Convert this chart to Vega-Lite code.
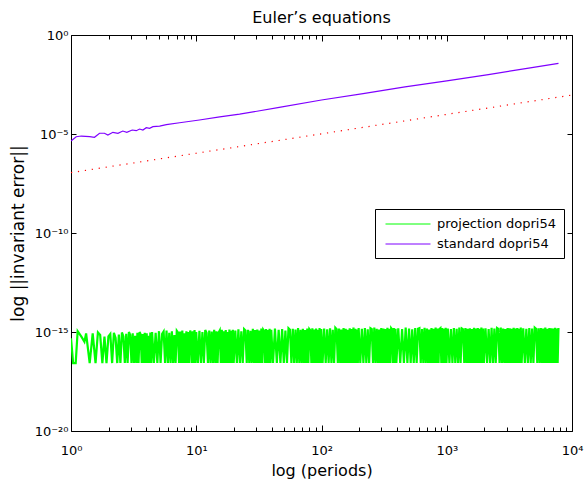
{
  "$schema": "https://vega.github.io/schema/vega-lite/v6.json",
  "autosize": {"type": "none"},
  "padding": {"left": 71, "top": 35, "right": 13, "bottom": 52},
  "width": 501,
  "height": 396,
  "background": "white",
  "title": {"text": "Euler’s equations", "fontSize": 16, "fontWeight": "normal", "font": "DejaVu Sans", "color": "black", "offset": 3},
  "datasets": {
    "ref": [
      {"t": 1, "e": 1.12e-7}, {"t": 10, "e": 1.07e-6}, {"t": 100, "e": 1.02e-5}, {"t": 1000, "e": 9.8e-5}, {"t": 10000, "e": 9.3e-4}
    ],
    "standard": [
      {"t": 1.0, "e": 4.45e-6}, {"t": 1.10, "e": 7.3e-6}, {"t": 1.21, "e": 7.9e-6}, {"t": 1.41, "e": 7.3e-6}, {"t": 1.54, "e": 6.8e-6},
      {"t": 1.69, "e": 1.09e-5}, {"t": 1.85, "e": 1.09e-5}, {"t": 1.97, "e": 8.9e-6}, {"t": 2.16, "e": 1.22e-5}, {"t": 2.37, "e": 1.09e-5},
      {"t": 2.59, "e": 1.41e-5}, {"t": 2.79, "e": 1.22e-5}, {"t": 3.08, "e": 1.59e-5}, {"t": 3.32, "e": 1.47e-5}, {"t": 3.53, "e": 1.78e-5},
      {"t": 3.75, "e": 1.59e-5}, {"t": 3.99, "e": 2.09e-5}, {"t": 4.24, "e": 1.95e-5}, {"t": 4.51, "e": 2.34e-5}, {"t": 5.10, "e": 2.5e-5},
      {"t": 5.77, "e": 2.95e-5}, {"t": 7.36, "e": 3.7e-5}, {"t": 10.6, "e": 5.1e-5}, {"t": 15.4, "e": 7.4e-5}, {"t": 22.2, "e": 1.0e-4},
      {"t": 46, "e": 2.2e-4}, {"t": 100, "e": 5.2e-4}, {"t": 215, "e": 1.1e-3}, {"t": 464, "e": 2.4e-3}, {"t": 1000, "e": 4.8e-3},
      {"t": 2150, "e": 1.0e-2}, {"t": 4640, "e": 2.2e-2}, {"t": 7800, "e": 3.7e-2}
    ],
    "projection": [
      {"t":1.00,"e":4.8e-16},{"t":1.04,"e":2.7e-17},{"t":1.09,"e":2.7e-17},{"t":1.13,"e":1.1e-15},{"t":1.21,"e":5.8e-16},{"t":1.28,"e":3.2e-16},{"t":1.32,"e":8.5e-16},{"t":1.41,"e":2.7e-17},{"t":1.49,"e":8.5e-16},{"t":1.57,"e":2.7e-17},
      {"t":1.64,"e":9.5e-16},{"t":1.71,"e":7e-16},{"t":1.78,"e":2.7e-17},{"t":1.85,"e":5.8e-16},{"t":1.92,"e":2.7e-17},{"t":1.99,"e":6e-16},{"t":2.06,"e":8e-16},{"t":2.13,"e":2.7e-17},{"t":2.20,"e":9e-16},{"t":2.27,"e":5e-16},
      {"t":2.34,"e":2.7e-17},{"t":2.41,"e":7.5e-16},{"t":2.48,"e":2.7e-17},{"t":2.55,"e":9.5e-16},{"t":2.62,"e":6e-16},{"t":2.69,"e":2.7e-17},{"t":2.76,"e":8e-16},{"t":2.83,"e":2.7e-17},{"t":2.90,"e":1.0e-15},{"t":2.97,"e":7e-16},
      {"t":3.04,"e":2.7e-17},{"t":3.11,"e":8.5e-16},{"t":3.18,"e":2.7e-17},{"t":3.25,"e":6.5e-16},{"t":3.32,"e":2.7e-17},{"t":3.39,"e":9e-16},{"t":3.46,"e":2.7e-17},{"t":3.53,"e":1.0e-15},{"t":3.60,"e":7.5e-16},{"t":3.67,"e":2.7e-17},
      {"t":3.74,"e":8e-16},{"t":3.81,"e":2.7e-17},{"t":3.88,"e":9e-16},{"t":3.95,"e":2.7e-17},{"t":4.02,"e":8.5e-16},{"t":4.09,"e":2.7e-17},{"t":4.16,"e":6.5e-16},{"t":4.23,"e":2.7e-17},{"t":4.30,"e":9.5e-16},{"t":4.37,"e":2.7e-17},
      {"t":4.44,"e":1.0e-15},
      {"t":4.59,"e":2.7e-17},{"t":4.74,"e":9e-16},{"t":4.89,"e":2.7e-17},{"t":5.04,"e":1.1e-15},{"t":5.19,"e":2.7e-17},{"t":5.34,"e":8e-16},{"t":5.49,"e":1.05e-15},{"t":5.64,"e":2.7e-17},{"t":5.79,"e":1.2e-15},{"t":5.94,"e":2.7e-17},
      {"t":6.09,"e":9e-16},{"t":6.24,"e":2.7e-17},{"t":6.39,"e":1.1e-15},{"t":6.54,"e":2.7e-17},{"t":6.69,"e":7e-16},{"t":6.84,"e":2.7e-17},{"t":6.99,"e":1.15e-15},{"t":7.14,"e":9.5e-16},{"t":7.29,"e":2.7e-17},{"t":7.44,"e":1.05e-15},
      {"t":7.59,"e":2.7e-17},{"t":7.74,"e":1.2e-15},{"t":7.89,"e":2.7e-17},{"t":8.04,"e":8.5e-16},{"t":8.19,"e":2.7e-17},{"t":8.34,"e":1.1e-15},{"t":8.49,"e":2.7e-17},{"t":8.64,"e":1e-15},{"t":8.79,"e":2.7e-17},{"t":8.94,"e":1.2e-15},
      {"t":9.09,"e":8e-16},{"t":9.24,"e":2.7e-17},{"t":9.39,"e":1.1e-15},{"t":9.54,"e":2.7e-17},{"t":9.69,"e":1.25e-15},{"t":9.84,"e":2.7e-17},{"t":9.99,"e":1e-15},
      {"t":10.3,"e":2.7e-17},{"t":10.6,"e":1.15e-15},{"t":10.9,"e":2.7e-17},{"t":11.2,"e":1e-15},{"t":11.5,"e":2.7e-17},{"t":11.8,"e":1.25e-15},{"t":12.1,"e":9e-16},{"t":12.4,"e":2.7e-17},{"t":12.7,"e":1.2e-15},{"t":13.0,"e":2.7e-17},
      {"t":13.3,"e":1.05e-15},{"t":13.6,"e":2.7e-17},{"t":13.9,"e":1.3e-15},{"t":14.2,"e":2.7e-17},{"t":14.5,"e":1.1e-15},{"t":14.8,"e":2.7e-17},{"t":15.1,"e":9.5e-16},{"t":15.4,"e":1.2e-15},{"t":15.7,"e":2.7e-17},{"t":16.0,"e":1.3e-15},
      {"t":16.3,"e":2.7e-17},{"t":16.6,"e":1.1e-15},{"t":16.9,"e":2.7e-17},{"t":17.2,"e":1.25e-15},{"t":17.5,"e":2.7e-17},{"t":17.8,"e":1e-15},{"t":18.1,"e":2.7e-17},{"t":18.4,"e":1.35e-15},{"t":18.7,"e":2.7e-17},{"t":19.0,"e":1.15e-15},
      {"t":19.3,"e":2.7e-17},{"t":19.6,"e":1.3e-15},{"t":19.9,"e":2.7e-17},
      {"t":20.5,"e":1.2e-15},{"t":21.1,"e":2.7e-17},{"t":21.7,"e":1.35e-15},{"t":22.3,"e":2.7e-17},{"t":22.9,"e":1.1e-15},{"t":23.5,"e":2.7e-17},{"t":24.1,"e":1.4e-15},{"t":24.7,"e":1.2e-15},{"t":25.3,"e":2.7e-17},{"t":25.9,"e":1.3e-15},
      {"t":26.5,"e":2.7e-17},{"t":27.1,"e":1.15e-15},{"t":27.7,"e":2.7e-17},{"t":28.3,"e":1.45e-15},{"t":28.9,"e":2.7e-17},{"t":29.5,"e":1.25e-15},{"t":30.1,"e":2.7e-17},{"t":30.7,"e":1.35e-15},{"t":31.3,"e":2.7e-17},{"t":31.9,"e":1.2e-15},
      {"t":32.5,"e":2.7e-17},{"t":33.1,"e":1.5e-15},{"t":33.7,"e":2.7e-17},{"t":34.3,"e":1.3e-15},{"t":34.9,"e":1.1e-15},{"t":35.5,"e":2.7e-17},{"t":36.1,"e":1.4e-15},{"t":36.7,"e":2.7e-17},{"t":37.3,"e":1.25e-15},{"t":37.9,"e":2.7e-17},
      {"t":38.5,"e":1.45e-15},{"t":39.1,"e":2.7e-17},{"t":39.7,"e":1.3e-15},
      {"t":41,"e":2.7e-17},{"t":42.5,"e":1.5e-15},{"t":44,"e":2.7e-17},{"t":45.5,"e":1.3e-15},{"t":47,"e":2.7e-17},{"t":48.5,"e":1.4e-15},{"t":50,"e":2.7e-17},{"t":51.5,"e":1.2e-15},{"t":53,"e":2.7e-17},{"t":54.5,"e":1.55e-15},
      {"t":56,"e":1.3e-15},{"t":57.5,"e":2.7e-17},{"t":59,"e":1.45e-15},{"t":60.5,"e":2.7e-17},{"t":62,"e":1.35e-15},{"t":63.5,"e":2.7e-17},{"t":65,"e":1.6e-15},{"t":66.5,"e":2.7e-17},{"t":68,"e":1.3e-15},{"t":69.5,"e":2.7e-17},
      {"t":71,"e":1.45e-15},{"t":72.5,"e":2.7e-17},{"t":74,"e":1.25e-15},{"t":75.5,"e":2.7e-17},{"t":77,"e":1.5e-15},{"t":78.5,"e":2.7e-17},{"t":80,"e":1.4e-15},{"t":81.5,"e":1.2e-15},{"t":83,"e":2.7e-17},{"t":84.5,"e":1.55e-15},
      {"t":86,"e":2.7e-17},{"t":87.5,"e":1.35e-15},{"t":89,"e":2.7e-17},{"t":90.5,"e":1.5e-15},{"t":92,"e":2.7e-17},{"t":93.5,"e":1.3e-15},{"t":95,"e":2.7e-17},{"t":96.5,"e":1.6e-15},{"t":98,"e":2.7e-17},{"t":99.5,"e":1.4e-15},
      {"t":102,"e":2.7e-17},{"t":105,"e":1.5e-15},{"t":108,"e":2.7e-17},{"t":111,"e":1.35e-15},{"t":114,"e":2.7e-17},{"t":117,"e":1.55e-15},{"t":120,"e":2.7e-17},{"t":123,"e":1.3e-15},{"t":126,"e":2.7e-17},{"t":129,"e":1.65e-15},
      {"t":132,"e":1.4e-15},{"t":135,"e":2.7e-17},{"t":138,"e":1.5e-15},{"t":141,"e":2.7e-17},{"t":144,"e":1.35e-15},{"t":147,"e":2.7e-17},{"t":150,"e":1.6e-15},{"t":153,"e":2.7e-17},{"t":156,"e":1.45e-15},{"t":159,"e":2.7e-17},
      {"t":162,"e":1.3e-15},{"t":165,"e":2.7e-17},{"t":168,"e":1.55e-15},{"t":171,"e":2.7e-17},{"t":174,"e":1.4e-15},{"t":177,"e":2.7e-17},{"t":180,"e":1.7e-15},{"t":183,"e":2.7e-17},{"t":186,"e":1.45e-15},{"t":189,"e":2.7e-17},
      {"t":192,"e":1.35e-15},{"t":195,"e":2.7e-17},{"t":198,"e":1.6e-15},
      {"t":204,"e":2.7e-17},{"t":210,"e":1.45e-15},{"t":216,"e":2.7e-17},{"t":222,"e":1.6e-15},{"t":228,"e":2.7e-17},{"t":234,"e":1.35e-15},{"t":240,"e":2.7e-17},{"t":246,"e":1.55e-15},{"t":252,"e":1.4e-15},{"t":258,"e":2.7e-17},
      {"t":264,"e":1.7e-15},{"t":270,"e":2.7e-17},{"t":276,"e":1.45e-15},{"t":282,"e":2.7e-17},{"t":288,"e":1.35e-15},{"t":294,"e":2.7e-17},{"t":300,"e":1.6e-15},{"t":306,"e":2.7e-17},{"t":312,"e":1.5e-15},{"t":318,"e":2.7e-17},
      {"t":324,"e":1.4e-15},{"t":330,"e":2.7e-17},{"t":336,"e":1.65e-15},{"t":342,"e":2.7e-17},{"t":348,"e":1.45e-15},{"t":354,"e":2.7e-17},{"t":360,"e":1.55e-15},{"t":366,"e":1.35e-15},{"t":372,"e":2.7e-17},{"t":378,"e":1.6e-15},
      {"t":384,"e":2.7e-17},{"t":390,"e":1.45e-15},{"t":396,"e":2.7e-17},
      {"t":410,"e":1.55e-15},{"t":425,"e":2.7e-17},{"t":440,"e":1.4e-15},{"t":455,"e":2.7e-17},{"t":470,"e":1.7e-15},{"t":485,"e":2.7e-17},{"t":500,"e":1.5e-15},{"t":515,"e":2.7e-17},{"t":530,"e":1.35e-15},{"t":545,"e":2.7e-17},
      {"t":560,"e":1.6e-15},{"t":575,"e":2.7e-17},{"t":590,"e":1.45e-15},{"t":605,"e":1.55e-15},{"t":620,"e":2.7e-17},{"t":635,"e":1.4e-15},{"t":650,"e":2.7e-17},{"t":665,"e":1.65e-15},{"t":680,"e":2.7e-17},{"t":695,"e":1.5e-15},
      {"t":710,"e":2.7e-17},{"t":725,"e":1.35e-15},{"t":740,"e":2.7e-17},{"t":755,"e":1.6e-15},{"t":770,"e":2.7e-17},{"t":785,"e":1.45e-15},{"t":800,"e":2.7e-17},{"t":815,"e":1.7e-15},{"t":830,"e":2.7e-17},{"t":845,"e":1.5e-15},
      {"t":860,"e":2.7e-17},{"t":875,"e":1.4e-15},{"t":890,"e":1.55e-15},{"t":905,"e":2.7e-17},{"t":920,"e":1.6e-15},{"t":935,"e":2.7e-17},{"t":950,"e":1.45e-15},{"t":965,"e":2.7e-17},{"t":980,"e":1.65e-15},{"t":995,"e":2.7e-17},
      {"t":1020,"e":1.5e-15},{"t":1050,"e":2.7e-17},{"t":1080,"e":1.4e-15},{"t":1110,"e":2.7e-17},{"t":1140,"e":1.6e-15},{"t":1170,"e":2.7e-17},{"t":1200,"e":1.45e-15},{"t":1230,"e":2.7e-17},{"t":1260,"e":1.7e-15},{"t":1290,"e":2.7e-17},
      {"t":1320,"e":1.5e-15},{"t":1350,"e":1.35e-15},{"t":1380,"e":2.7e-17},{"t":1410,"e":1.6e-15},{"t":1440,"e":2.7e-17},{"t":1470,"e":1.45e-15},{"t":1500,"e":2.7e-17},{"t":1530,"e":1.55e-15},{"t":1560,"e":2.7e-17},{"t":1590,"e":1.4e-15},
      {"t":1620,"e":2.7e-17},{"t":1650,"e":1.65e-15},{"t":1680,"e":2.7e-17},{"t":1710,"e":1.5e-15},{"t":1740,"e":2.7e-17},{"t":1770,"e":1.6e-15},{"t":1800,"e":2.7e-17},{"t":1830,"e":1.45e-15},{"t":1860,"e":2.7e-17},{"t":1890,"e":1.7e-15},
      {"t":1920,"e":2.7e-17},{"t":1950,"e":1.5e-15},{"t":1980,"e":2.7e-17},
      {"t":2040,"e":1.55e-15},{"t":2100,"e":2.7e-17},{"t":2160,"e":1.4e-15},{"t":2220,"e":2.7e-17},{"t":2280,"e":1.65e-15},{"t":2340,"e":2.7e-17},{"t":2400,"e":1.5e-15},{"t":2460,"e":2.7e-17},{"t":2520,"e":1.6e-15},{"t":2580,"e":1.45e-15},
      {"t":2640,"e":2.7e-17},{"t":2700,"e":1.7e-15},{"t":2760,"e":2.7e-17},{"t":2820,"e":1.5e-15},{"t":2880,"e":2.7e-17},{"t":2940,"e":1.4e-15},{"t":3000,"e":2.7e-17},{"t":3060,"e":1.6e-15},{"t":3120,"e":2.7e-17},{"t":3180,"e":1.55e-15},
      {"t":3240,"e":2.7e-17},{"t":3300,"e":1.45e-15},{"t":3360,"e":2.7e-17},{"t":3420,"e":1.65e-15},{"t":3480,"e":2.7e-17},{"t":3540,"e":1.5e-15},{"t":3600,"e":2.7e-17},{"t":3660,"e":1.6e-15},{"t":3720,"e":2.7e-17},{"t":3780,"e":1.45e-15},
      {"t":3840,"e":2.7e-17},{"t":3900,"e":1.7e-15},{"t":3960,"e":2.7e-17},
      {"t":4080,"e":1.55e-15},{"t":4200,"e":2.7e-17},{"t":4320,"e":1.45e-15},{"t":4440,"e":2.7e-17},{"t":4560,"e":1.6e-15},{"t":4680,"e":2.7e-17},{"t":4800,"e":1.5e-15},{"t":4920,"e":2.7e-17},{"t":5040,"e":1.65e-15},{"t":5160,"e":1.45e-15},
      {"t":5280,"e":2.7e-17},{"t":5400,"e":1.55e-15},{"t":5520,"e":2.7e-17},{"t":5640,"e":1.6e-15},{"t":5760,"e":2.7e-17},{"t":5880,"e":1.5e-15},{"t":6000,"e":2.7e-17},{"t":6120,"e":1.7e-15},{"t":6240,"e":2.7e-17},{"t":6360,"e":1.45e-15},
      {"t":6480,"e":2.7e-17},{"t":6600,"e":1.6e-15},{"t":6720,"e":2.7e-17},{"t":6840,"e":1.55e-15},{"t":6960,"e":2.7e-17},{"t":7080,"e":1.5e-15},{"t":7200,"e":2.7e-17},{"t":7320,"e":1.65e-15},{"t":7440,"e":2.7e-17},{"t":7560,"e":1.5e-15},
      {"t":7680,"e":2.7e-17},{"t":7800,"e":1.6e-15}
    ]
  },
  "resolve": {"axis": {"x": "independent", "y": "independent"}},
  "layer": [
    {
      "data": {"name": "ref"},
      "mark": {"type": "line", "color": "#ff0000", "strokeWidth": 1.2, "strokeDash": [1.2, 5.8], "clip": true},
      "encoding": {
        "x": {"field": "t", "type": "quantitative", "scale": {"type": "log", "domain": [1, 10000], "nice": false},
          "axis": {"orient": "bottom", "title": "log (periods)", "titleFontSize": 16, "titlePadding": 3,
            "values": [1,2,3,4,5,6,7,8,9,10,20,30,40,50,60,70,80,90,100,200,300,400,500,600,700,800,900,1000,2000,3000,4000,5000,6000,7000,8000,9000,10000],
            "labelExpr": "datum.value == 1 ? '10⁰' : datum.value == 10 ? '10¹' : datum.value == 100 ? '10²' : datum.value == 1000 ? '10³' : datum.value == 10000 ? '10⁴' : ''",
            "labelFontSize": 13, "labelPadding": 19, "labelFlush": false, "labelOverlap": false,
            "tickSize": {"condition": {"test": "datum.value == 1 || datum.value == 10 || datum.value == 100 || datum.value == 1000 || datum.value == 10000", "value": -6}, "value": -4}}},
        "y": {"field": "e", "type": "quantitative", "scale": {"type": "log", "domain": [1e-20, 1], "nice": false},
          "axis": {"orient": "left", "title": "log ||invariant error||", "titleFontSize": 17, "titlePadding": 7,
            "values": [1e-20, 1e-15, 1e-10, 1e-5, 1],
            "labelExpr": "datum.value > 0.1 ? '10⁰' : datum.value > 1e-6 ? '10⁻⁵' : datum.value > 1e-11 ? '10⁻¹⁰' : datum.value > 1e-16 ? '10⁻¹⁵' : '10⁻²⁰'",
            "labelFontSize": 13, "labelPadding": 8, "labelOverlap": false, "tickSize": -5}}
      }
    },
    {
      "data": {"name": "standard"},
      "mark": {"type": "line", "strokeWidth": 1.2, "clip": true},
      "encoding": {
        "x": {"field": "t", "type": "quantitative", "scale": {"type": "log", "domain": [1, 10000], "nice": false},
          "axis": {"orient": "top", "title": null, "labels": false,
            "values": [1,2,3,4,5,6,7,8,9,10,20,30,40,50,60,70,80,90,100,200,300,400,500,600,700,800,900,1000,2000,3000,4000,5000,6000,7000,8000,9000,10000],
            "tickSize": {"condition": {"test": "datum.value == 1 || datum.value == 10 || datum.value == 100 || datum.value == 1000 || datum.value == 10000", "value": -6}, "value": -4}}},
        "y": {"field": "e", "type": "quantitative", "scale": {"type": "log", "domain": [1e-20, 1], "nice": false},
          "axis": {"orient": "right", "title": null, "labels": false, "values": [1e-20, 1e-15, 1e-10, 1e-5, 1], "tickSize": -5}},
        "color": {"datum": "standard dopri54", "type": "nominal",
          "scale": {"domain": ["projection dopri54", "standard dopri54"], "range": ["#00ff00", "#7f00ff"]},
          "legend": {"orient": "none", "legendX": 304, "legendY": 174, "direction": "vertical", "title": null,
            "strokeColor": "black", "fillColor": "white", "padding": 7, "cornerRadius": 0,
            "symbolType": "M-0.6,0H5.4", "symbolSize": 225, "symbolStrokeWidth": 1,
            "labelFontSize": 13, "labelFont": "DejaVu Sans", "labelColor": "black", "labelOffset": 39, "rowPadding": 5}}
      }
    },
    {
      "data": {"name": "projection"},
      "mark": {"type": "line", "strokeWidth": 2.2, "clip": true},
      "encoding": {
        "x": {"field": "t", "type": "quantitative", "scale": {"type": "log", "domain": [1, 10000], "nice": false}, "axis": null},
        "y": {"field": "e", "type": "quantitative", "scale": {"type": "log", "domain": [1e-20, 1], "nice": false}, "axis": null},
        "color": {"datum": "projection dopri54", "type": "nominal"}
      }
    }
  ],
  "config": {
    "font": "DejaVu Sans",
    "view": {"stroke": null},
    "axis": {"grid": false, "domainColor": "black", "domainWidth": 1, "tickColor": "black", "tickWidth": 1,
      "labelColor": "black", "titleColor": "black", "labelFont": "DejaVu Sans", "titleFont": "DejaVu Sans", "titleFontWeight": "normal"},
    "legend": {"strokeWidth": 1}
  }
}
